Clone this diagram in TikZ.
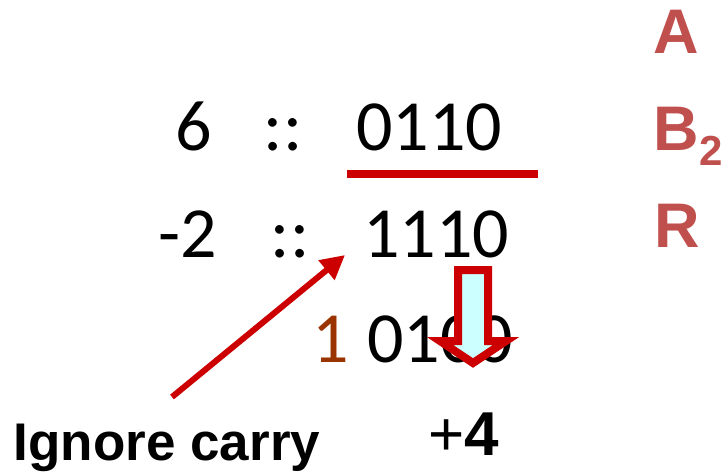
\documentclass[tikz,border=0pt]{standalone}
\usepackage{fontspec}
\setmainfont{Carlito}
\newfontfamily\arialfont{Liberation Sans}
\usetikzlibrary{arrows.meta, positioning}
\definecolor{SlideRed}{HTML}{CC0000}
\definecolor{SlideRose}{HTML}{C0504D}
\definecolor{SlideBrown}{HTML}{993300}
\definecolor{SlideCyan}{HTML}{CCFFFF}
\tikzset{
   num/.style={inner sep=0pt, anchor=base, font=\fontsize{72}{72}\selectfont},
   tag/.style={inner sep=0pt, anchor=base, text=SlideRose,
      font=\arialfont\bfseries\fontsize{63}{63}\selectfont}
}
\begin{document}
\begin{tikzpicture}[x=1pt, y=-1pt]
            \useasboundingbox (0,0) rectangle (727,471);
            % First operand
            \node[num] (six) at (194,150) {6};
            \node[num] (colA) at (283,150) {::};
            \node[num] (opA) at (429,150) {0110};
            % Red bar under the first operand
            \draw[SlideRed, line width=8pt] (347,174) -- (538,174);
            % Second operand
            \node[num] (mtwo) at (188,257) {-2};
            \node[num] (colB) at (290,257) {::};
            \node[num] (opB) at (436,257) {1110};
            % Sum with carry
            \node[num, text=SlideBrown] (carry) at (331,362) {1};
            \node[num] (sum) at (440,362) {0100};
            % Labels on the right
            \node[tag] (labA) at (676,53) {A};
            \node[tag] (labB) at (676,150) {B};
            \node[tag, font=\arialfont\bfseries\fontsize{42}{42}\selectfont] (labBsub) at (711,165) {2};
            \node[tag] (labR) at (677,247) {R};
            % Down arrow (outlined)
            \draw[SlideRed, fill=SlideCyan, line width=8pt, miter limit=10]
               (458,270) -- (488,270) -- (488,341) -- (506,341) -- (473,363)
               -- (440,341) -- (458,341) -- cycle;
            % Bottom texts
            \node[inner sep=0pt, anchor=base, font=\arialfont\bfseries\fontsize{53}{53}\selectfont]
               (ignore) at (167,460) {Ignore carry};
            \node[inner sep=0pt, anchor=base, font=\arialfont\fontsize{62}{62}\selectfont]
               (four) at (464,455) {+\textbf{4}};
            % Arrow towards the carry
            \coordinate (tail) at (172,397);
            \coordinate (head) at (345,255);
            \draw[-{Triangle[length=24pt, width=24pt]}, SlideRed, line width=6pt] (tail) -- (head);
         \end{tikzpicture}
\end{document}
